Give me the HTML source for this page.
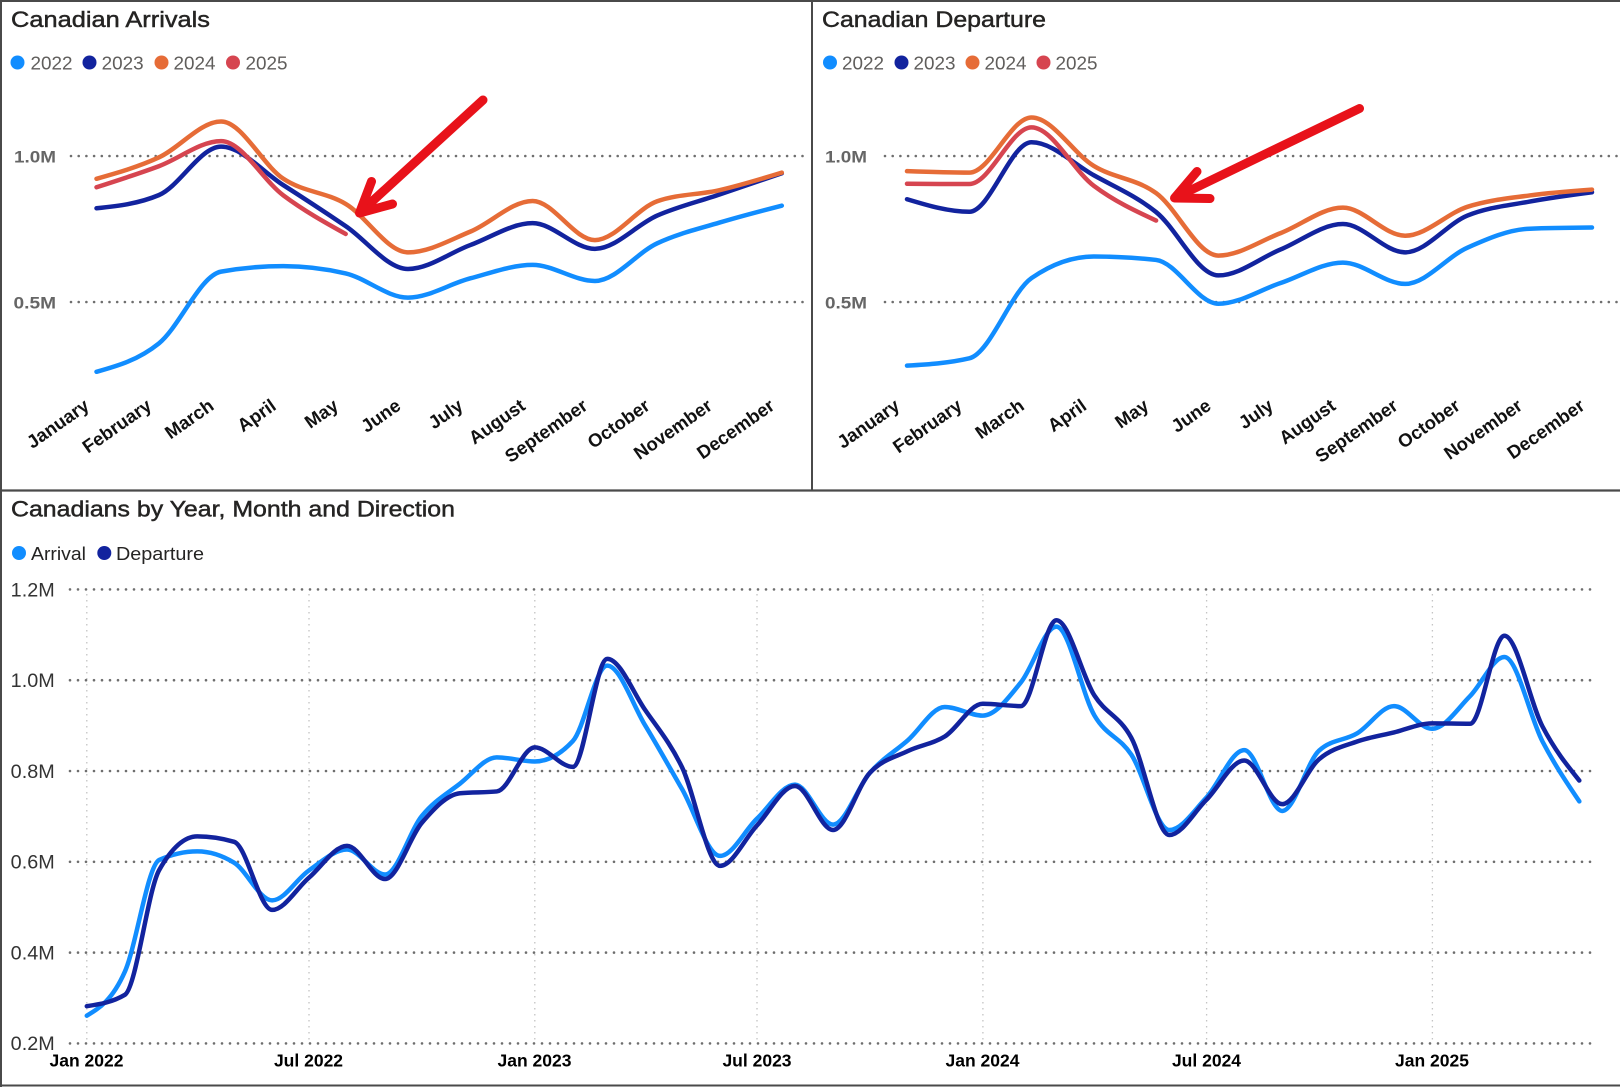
<!DOCTYPE html>
<html>
<head>
<meta charset="utf-8">
<style>
  html,body{margin:0;padding:0;background:#fff;}
  svg{display:block;}
  text{font-family:"Liberation Sans", sans-serif;}
</style>
</head>
<body>
<svg id="chart" xmlns="http://www.w3.org/2000/svg" width="1620" height="1087" viewBox="0 0 1620 1087">
  <rect x="0" y="0" width="1620" height="1087" fill="#fff"/>

  <!-- borders -->
  <line x1="0" y1="1" x2="1620" y2="1" stroke="#4a4a4a" stroke-width="2"/>
  <line x1="1" y1="0" x2="1" y2="1087" stroke="#4a4a4a" stroke-width="2"/>
  <line x1="812" y1="0" x2="812" y2="491" stroke="#4a4a4a" stroke-width="2"/>
  <line x1="0" y1="490.5" x2="1620" y2="490.5" stroke="#4a4a4a" stroke-width="2.2"/>
  <line x1="0" y1="1085.5" x2="1620" y2="1085.5" stroke="#4a4a4a" stroke-width="2"/>

  <!-- ===== Top-left: Canadian Arrivals ===== -->
  <text x="11" y="27" font-size="22" fill="#252423" stroke="#252423" stroke-width="0.45" textLength="199" lengthAdjust="spacingAndGlyphs">Canadian Arrivals</text>
  <g font-size="18.5" fill="#605E5C">
    <circle cx="17.5" cy="62.5" r="7" fill="#118DFF"/>
    <text x="30.5" y="69.3" textLength="42" lengthAdjust="spacingAndGlyphs">2022</text>
    <circle cx="89.5" cy="62.5" r="7" fill="#12239E"/>
    <text x="101.7" y="69.3" textLength="42" lengthAdjust="spacingAndGlyphs">2023</text>
    <circle cx="161.5" cy="62.5" r="7" fill="#E66C37"/>
    <text x="173.5" y="69.3" textLength="42" lengthAdjust="spacingAndGlyphs">2024</text>
    <circle cx="233" cy="62.5" r="7" fill="#D64550"/>
    <text x="245.5" y="69.3" textLength="42" lengthAdjust="spacingAndGlyphs">2025</text>
  </g>
  <g font-size="17" font-weight="bold" fill="#666">
    <text x="14" y="162.3" textLength="42" lengthAdjust="spacingAndGlyphs">1.0M</text>
    <text x="13.5" y="308.3" textLength="42.5" lengthAdjust="spacingAndGlyphs">0.5M</text>
  </g>
  <g stroke="#6e6e6e" stroke-width="2.6" stroke-linecap="round" stroke-dasharray="0 7.7">
    <line x1="71" y1="156" x2="803" y2="156"/>
    <line x1="71" y1="302" x2="803" y2="302"/>
  </g>
  <g id="tlLabels" font-size="18.5" font-weight="bold" fill="#111" text-anchor="end"></g>
  <g id="tlSeries" fill="none" stroke-width="4.5" stroke-linejoin="round" stroke-linecap="round"></g>

  <!-- ===== Top-right: Canadian Departure ===== -->
  <text x="822" y="27" font-size="22" fill="#252423" stroke="#252423" stroke-width="0.45" textLength="224" lengthAdjust="spacingAndGlyphs">Canadian Departure</text>
  <g font-size="18.5" fill="#605E5C">
    <circle cx="830" cy="62.5" r="7" fill="#118DFF"/>
    <text x="842" y="69.3" textLength="42" lengthAdjust="spacingAndGlyphs">2022</text>
    <circle cx="901.5" cy="62.5" r="7" fill="#12239E"/>
    <text x="913.5" y="69.3" textLength="42" lengthAdjust="spacingAndGlyphs">2023</text>
    <circle cx="972.5" cy="62.5" r="7" fill="#E66C37"/>
    <text x="984.5" y="69.3" textLength="42" lengthAdjust="spacingAndGlyphs">2024</text>
    <circle cx="1043.5" cy="62.5" r="7" fill="#D64550"/>
    <text x="1055.5" y="69.3" textLength="42" lengthAdjust="spacingAndGlyphs">2025</text>
  </g>
  <g font-size="17" font-weight="bold" fill="#666">
    <text x="825" y="162.3" textLength="42" lengthAdjust="spacingAndGlyphs">1.0M</text>
    <text x="825" y="308.3" textLength="42" lengthAdjust="spacingAndGlyphs">0.5M</text>
  </g>
  <g stroke="#6e6e6e" stroke-width="2.6" stroke-linecap="round" stroke-dasharray="0 7.7">
    <line x1="885" y1="156" x2="1617" y2="156"/>
    <line x1="885" y1="302" x2="1617" y2="302"/>
  </g>
  <g id="trLabels" font-size="18.5" font-weight="bold" fill="#111" text-anchor="end"></g>
  <g id="trSeries" fill="none" stroke-width="4.5" stroke-linejoin="round" stroke-linecap="round"></g>

  <!-- arrows -->
  <g stroke="#E8121A" stroke-width="9" stroke-linecap="round" stroke-linejoin="round" fill="none">
    <path d="M483,100 L360,212.5"/>
    <path d="M371.5,181.5 L359.5,213 L392.5,204"/>
    <path d="M1359.5,108.5 L1175.5,197.5"/>
    <path d="M1197,171.5 L1174.5,198 L1210,198.5"/>
  </g>

  <!-- ===== Bottom: Canadians by Year, Month and Direction ===== -->
  <text x="11" y="516.5" font-size="22" fill="#252423" stroke="#252423" stroke-width="0.45" textLength="444" lengthAdjust="spacingAndGlyphs">Canadians by Year, Month and Direction</text>
  <g font-size="18.5" fill="#252423">
    <circle cx="19" cy="553" r="7" fill="#118DFF"/>
    <text x="31" y="560" textLength="55" lengthAdjust="spacingAndGlyphs">Arrival</text>
    <circle cx="104.3" cy="553" r="7" fill="#12239E"/>
    <text x="116" y="560" textLength="88" lengthAdjust="spacingAndGlyphs">Departure</text>
  </g>
  <g font-size="19" fill="#333">
    <text x="10.7" y="596.3" textLength="44" lengthAdjust="spacingAndGlyphs">1.2M</text>
    <text x="10.7" y="687.1" textLength="44" lengthAdjust="spacingAndGlyphs">1.0M</text>
    <text x="10.7" y="777.9" textLength="44" lengthAdjust="spacingAndGlyphs">0.8M</text>
    <text x="10.7" y="868.7" textLength="44" lengthAdjust="spacingAndGlyphs">0.6M</text>
    <text x="10.7" y="959.5" textLength="44" lengthAdjust="spacingAndGlyphs">0.4M</text>
    <text x="10.7" y="1050.2" textLength="44" lengthAdjust="spacingAndGlyphs">0.2M</text>
  </g>
  <g stroke="#c4c4c4" stroke-width="1.3" stroke-dasharray="1.5 4.5">
    <line x1="86.8" y1="594" x2="86.8" y2="1042"/>
    <line x1="309" y1="594" x2="309" y2="1042"/>
    <line x1="534.8" y1="594" x2="534.8" y2="1042"/>
    <line x1="757" y1="594" x2="757" y2="1042"/>
    <line x1="982.9" y1="594" x2="982.9" y2="1042"/>
    <line x1="1206.6" y1="594" x2="1206.6" y2="1042"/>
    <line x1="1432.4" y1="594" x2="1432.4" y2="1042"/>
  </g>
  <g stroke="#6e6e6e" stroke-width="2.6" stroke-linecap="round" stroke-dasharray="0 8">
    <line x1="70" y1="589.4" x2="1595" y2="589.4"/>
    <line x1="70" y1="680.2" x2="1595" y2="680.2"/>
    <line x1="70" y1="771" x2="1595" y2="771"/>
    <line x1="70" y1="861.8" x2="1595" y2="861.8"/>
    <line x1="70" y1="952.6" x2="1595" y2="952.6"/>
    <line x1="70" y1="1043.4" x2="1595" y2="1043.4"/>
  </g>
  <g font-size="17.5" font-weight="bold" fill="#000" text-anchor="middle">
    <text x="86.5" y="1066.5">Jan 2022</text>
    <text x="308.5" y="1066.5">Jul 2022</text>
    <text x="534.5" y="1066.5">Jan 2023</text>
    <text x="757" y="1066.5">Jul 2023</text>
    <text x="982.5" y="1066.5">Jan 2024</text>
    <text x="1206.5" y="1066.5">Jul 2024</text>
    <text x="1432" y="1066.5">Jan 2025</text>
  </g>
  <g id="bSeries" fill="none" stroke-width="4.5" stroke-linejoin="round" stroke-linecap="round"></g>
</svg>

<script>
(function(){
  var NS = "http://www.w3.org/2000/svg";
  var C = {y22:"#118DFF", y23:"#12239E", y24:"#E66C37", y25:"#D64550"};

  var A = {
    y22:[0.261,0.358,0.604,0.623,0.598,0.515,0.581,0.627,0.572,0.701,0.772,0.830],
    y23:[0.821,0.866,1.032,0.900,0.760,0.613,0.695,0.770,0.682,0.796,0.868,0.941],
    y24:[0.922,0.995,1.118,0.922,0.836,0.670,0.741,0.846,0.712,0.845,0.883,0.943],
    y25:[0.893,0.965,1.051,0.865,0.733]
  };
  var D = {
    y22:[0.282,0.307,0.582,0.656,0.644,0.494,0.565,0.635,0.562,0.686,0.751,0.755],
    y23:[0.852,0.809,1.047,0.934,0.808,0.591,0.680,0.767,0.670,0.796,0.844,0.876],
    y24:[0.948,0.943,1.132,0.966,0.873,0.659,0.736,0.823,0.727,0.826,0.865,0.885],
    y25:[0.905,0.904,1.098,0.898,0.779]
  };

  function slope3(x0,y0,x1,y1,x2,y2){
    var h0=x1-x0,h1=x2-x1,s0=(y1-y0)/h0,s1=(y2-y1)/h1,p=(s0*h1+s1*h0)/(h0+h1);
    return (Math.sign(s0)+Math.sign(s1))*Math.min(Math.abs(s0),Math.abs(s1),0.5*Math.abs(p))||0;
  }
  function slope2(x0,y0,x1,y1,t){
    var h=x1-x0; return h?(3*(y1-y0)/h - t)/2 : t;
  }
  function mono(pts){
    var n=pts.length, t=new Array(n), i;
    if(n<2) return "";
    if(n===2){ return "M"+pts[0][0]+","+pts[0][1]+"L"+pts[1][0]+","+pts[1][1]; }
    for(i=1;i<n-1;i++) t[i]=slope3(pts[i-1][0],pts[i-1][1],pts[i][0],pts[i][1],pts[i+1][0],pts[i+1][1]);
    t[0]=slope2(pts[0][0],pts[0][1],pts[1][0],pts[1][1],t[1]);
    t[n-1]=slope2(pts[n-2][0],pts[n-2][1],pts[n-1][0],pts[n-1][1],t[n-2]);
    var d="M"+pts[0][0].toFixed(2)+","+pts[0][1].toFixed(2);
    for(i=0;i<n-1;i++){
      var x0=pts[i][0],y0=pts[i][1],x1=pts[i+1][0],y1=pts[i+1][1],dx=(x1-x0)/3;
      d+="C"+(x0+dx).toFixed(2)+","+(y0+dx*t[i]).toFixed(2)+","+(x1-dx).toFixed(2)+","+(y1-dx*t[i+1]).toFixed(2)+","+x1.toFixed(2)+","+y1.toFixed(2);
    }
    return d;
  }
  function addPath(g,d,color){
    var p=document.createElementNS(NS,"path");
    p.setAttribute("d",d); p.setAttribute("stroke",color);
    g.appendChild(p);
  }
  function topY(v){ return 156 + (1-v)*292; }

  var months=["January","February","March","April","May","June","July","August","September","October","November","December"];

  function buildTop(gid,lid,data,x0,step){
    var g=document.getElementById(gid), l=document.getElementById(lid);
    ["y22","y23","y24","y25"].forEach(function(k){
      var pts=data[k].map(function(v,i){ return [x0+i*step, topY(v)]; });
      addPath(g,mono(pts),C[k]);
    });
    months.forEach(function(m,i){
      var x=x0+i*step-6, y=408.5;
      var t=document.createElementNS(NS,"text");
      t.setAttribute("x",x.toFixed(1)); t.setAttribute("y",y);
      t.setAttribute("transform","rotate(-35 "+x.toFixed(1)+" "+y+")");
      t.textContent=m; l.appendChild(t);
    });
  }
  buildTop("tlSeries","tlLabels",A,96.5,62.3);
  buildTop("trSeries","trLabels",D,907,62.27);

  // bottom
  var base=Date.UTC(2022,0,1);
  function bx(yr,m){ return 86.8 + (Date.UTC(yr,m,1)-base)/86400000*1.2274; }
  function by(v){ return 1043.4 - (v-0.2)*454; }
  function series(obj){
    var pts=[], yrs=[["y22",2022],["y23",2023],["y24",2024],["y25",2025]];
    yrs.forEach(function(p){ obj[p[0]].forEach(function(v,i){ pts.push([bx(p[1],i), by(v)]); }); });
    return pts;
  }
  var bg=document.getElementById("bSeries");
  addPath(bg,mono(series(A)),"#118DFF");
  addPath(bg,mono(series(D)),"#12239E");
})();
</script>
</body>
</html>
